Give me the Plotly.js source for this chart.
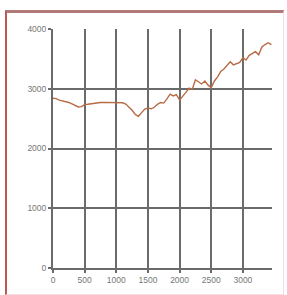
<!DOCTYPE html>
<html>
<head>
<meta charset="utf-8">
<script src="https://cdn.plot.ly/plotly-3.0.1.min.js"></script>
<style>
html,body{margin:0;padding:0;background:#fff;}
#wrap{position:relative;width:287px;height:295px;}
#chart{position:absolute;left:0;top:0;width:287px;height:295px;}
#frame{position:absolute;left:5px;top:10px;width:276px;height:281px;border-top:3px solid #b07a7a;border-left:2px solid #c05555;border-right:1px solid #f2dede;border-bottom:1px solid #f2dede;pointer-events:none;}
</style>
</head>
<body>
<div id="wrap"><div id="chart"></div><div id="frame"></div></div>
<script>
const xValues = [0,50,100,150,200,250,300,350,400,450,500,550,600,650,700,750,800,850,900,950,1000,1050,1100,1150,1200,1250,1300,1350,1400,1450,1500,1550,1600,1650,1700,1750,1800,1850,1900,1950,2000,2050,2100,2150,2200,2250,2300,2350,2400,2450,2500,2550,2600,2650,2700,2750,2800,2850,2900,2950,3000,3050,3100,3150,3200,3250,3300,3350,3400,3450];
const yValues = [2840,2835,2810,2800,2780,2770,2745,2725,2695,2700,2735,2740,2750,2760,2765,2770,2772,2770,2765,2768,2765,2762,2765,2745,2700,2640,2570,2540,2600,2660,2680,2665,2690,2740,2770,2760,2830,2910,2880,2900,2810,2870,2940,3010,2990,3150,3110,3080,3130,3060,3020,3130,3200,3290,3330,3400,3450,3400,3420,3440,3520,3480,3560,3590,3620,3570,3700,3740,3770,3740];
const xTicks = [0,500,1000,1500,2000,2500,3000];
const yTicks = [0,1000,2000,3000,4000];

const axisCommon = {
  showgrid: true, gridcolor: '#6b6b6b', gridwidth: 2,
  showline: true, linecolor: '#6b6b6b', linewidth: 2,
  ticks: 'outside', ticklen: 3, tickcolor: '#6b6b6b', tickwidth: 2,
  zeroline: false,
  tickfont: {family: 'Liberation Sans, Arial, sans-serif', size: 8.5, color: '#777'},
  fixedrange: true
};

Plotly.newPlot('chart', [{
  x: xValues, y: yValues, type: 'scatter', mode: 'lines',
  line: {color: '#b86a45', width: 1.4}, hoverinfo: 'skip'
}], {
  width: 287, height: 295,
  margin: {l: 53, r: 15, t: 29, b: 27},
  paper_bgcolor: '#fff', plot_bgcolor: '#fff',
  showlegend: false,
  xaxis: Object.assign({}, axisCommon, {range: [0, 3460], tickvals: xTicks, ticktext: xTicks.map(String)}),
  yaxis: Object.assign({}, axisCommon, {range: [0, 4000], tickvals: yTicks, ticktext: yTicks.map(String)})
}, {displayModeBar: false, staticPlot: true});
</script>
</body>
</html>
